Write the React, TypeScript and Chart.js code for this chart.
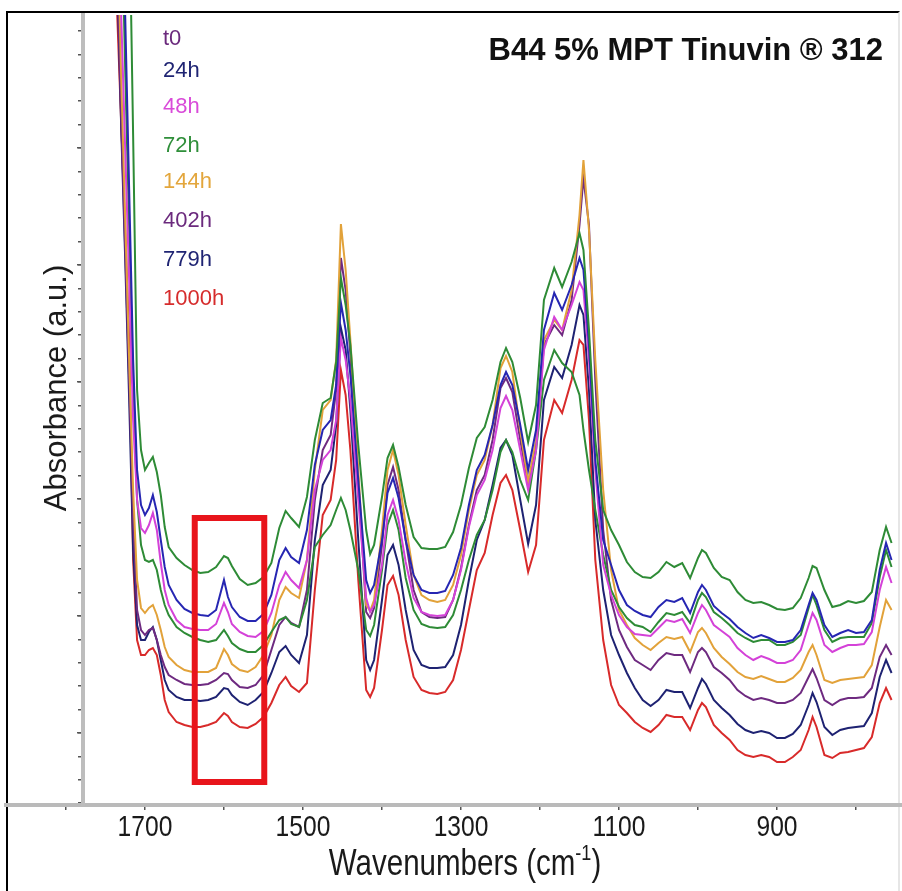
import { useEffect, useRef } from 'react';
import { Chart, registerables } from 'chart.js';

Chart.register(...registerables);

// ---------- data (wavenumber in cm-1, absorbance in mAU, arbitrary offset) ----------
const WAVENUMBERS = [
  1740, 1735, 1730, 1725, 1720, 1715, 1710, 1705, 1700, 1695,
  1690, 1685, 1680, 1675, 1670, 1660, 1650, 1640, 1630, 1620,
  1610, 1600, 1595, 1590, 1580, 1570, 1560, 1550, 1540, 1530,
  1522, 1515, 1505, 1495, 1485, 1475, 1465, 1458, 1452, 1446,
  1440, 1430, 1420, 1415, 1410, 1400, 1393, 1386, 1379, 1370,
  1360, 1350, 1340, 1330, 1320, 1310, 1300, 1290, 1280, 1270,
  1260, 1250, 1243, 1235, 1225, 1215, 1205, 1195, 1182, 1172,
  1160, 1150, 1145, 1138, 1130, 1120, 1110, 1100, 1090, 1080,
  1070, 1060, 1050, 1040, 1030, 1020, 1010, 1000, 995, 990,
  980, 970, 960, 950, 940, 930, 920, 910, 900, 890,
  880, 870, 860, 855, 850, 840, 830, 820, 810, 800,
  790, 780, 770, 762, 755,
];

const H72 = [
  1805, 1605, 1390, 1150, 910, 670, 415, 355, 335, 342,
  348, 333, 310, 278, 258, 247, 240, 235, 232, 233,
  238, 249, 247, 239, 226, 220, 222, 228, 242, 277,
  294, 287, 278, 308, 365, 402, 407, 443, 527, 500,
  460, 360, 275, 251, 260, 308, 347, 360, 338, 300,
  268, 257, 256, 256, 258, 273, 300, 337, 367, 378,
  405, 443, 457, 443, 407, 363, 400, 505, 537, 518,
  543, 572, 555, 475, 365, 295, 275, 260, 243, 233,
  228, 227, 233, 243, 238, 242, 227, 247, 255, 252,
  237, 228, 225, 213, 205, 202, 203, 200, 196, 195,
  197, 207, 227, 239, 237, 215, 198, 200, 204, 202,
  204, 213, 255, 278, 262,
];

const H24 = [
  1505, 1305, 960, 788, 615, 445, 335, 300, 290, 297,
  310, 293, 265, 238, 220, 205, 196, 192, 190, 189,
  195, 225, 208, 198, 188, 184, 184, 191, 210, 245,
  257, 248, 242, 275, 340, 375, 385, 420, 502, 475,
  430, 325, 225, 212, 220, 265, 312, 327, 307, 265,
  230, 215, 212, 212, 214, 230, 257, 300, 335, 350,
  380, 420, 433, 420, 380, 335, 375, 475, 512, 495,
  520, 547, 535, 460, 345, 265, 240, 215, 200, 194,
  190, 188, 198, 205, 203, 207, 192, 213, 220, 215,
  199, 192, 186, 178, 172, 167, 170, 167, 163, 163,
  165, 175, 200, 212, 205, 180, 168, 172, 175, 172,
  173, 185, 235, 262, 245,
];

const H48 = [
  1405, 955, 788, 655, 525, 385, 305, 277, 272, 280,
  292, 275, 242, 215, 200, 185, 178, 176, 175, 175,
  181, 202, 193, 181, 173, 169, 168, 174, 192, 220,
  233, 225, 217, 245, 315, 345, 355, 385, 467, 445,
  405, 305, 207, 193, 200, 240, 290, 305, 285, 243,
  207, 193, 190, 189, 190, 205, 235, 278, 310, 325,
  355, 397, 409, 395, 355, 315, 355, 455, 488, 475,
  500, 523, 515, 445, 335, 240, 210, 190, 178, 171,
  170, 169, 177, 185, 183, 186, 172, 192, 200, 195,
  180, 174, 168, 157, 150, 145, 149, 146, 142, 142,
  145, 155, 180, 192, 185, 160, 153, 157, 160, 160,
  161, 173, 215, 238, 222,
];

const T0 = [
  1605, 1205, 905, 735, 575, 415, 305, 260, 245, 243,
  245, 235, 215, 200, 190, 178, 172, 168, 165, 163,
  165, 175, 169, 162, 156, 153, 153, 160, 173, 185,
  188, 181, 178, 205, 258, 270, 280, 295, 307, 295,
  275, 235, 175, 169, 180, 235, 280, 295, 275, 227,
  195, 181, 178, 177, 178, 190, 215, 245, 270, 285,
  315, 353, 365, 353, 325, 305, 355, 425, 455, 442,
  433, 410, 375, 335, 295, 250, 215, 198, 187, 180,
  178, 173, 183, 192, 190, 193, 182, 205, 212, 208,
  193, 187, 180, 172, 167, 163, 165, 165, 160, 160,
  163, 170, 197, 210, 200, 175, 163, 167, 168, 168,
  168, 182, 228, 255, 238,
];

const H144 = [
  1105, 885, 725, 585, 445, 315, 225, 197, 192, 197,
  200, 190, 175, 158, 148, 140, 135, 133, 133, 133,
  137, 156, 150, 141, 135, 133, 138, 150, 170, 205,
  218, 212, 207, 245, 335, 395, 405, 445, 581, 535,
  465, 335, 200, 194, 205, 275, 335, 355, 330, 280,
  230, 210, 205, 203, 205, 220, 250, 295, 330, 345,
  380, 437, 449, 433, 375, 323, 365, 465, 485, 475,
  515, 590, 645, 575, 445, 315, 235, 195, 180, 167,
  160, 155, 162, 168, 166, 168, 153, 173, 177, 172,
  157, 148, 141, 133, 128, 126, 129, 126, 123, 123,
  127, 135, 153, 160, 150, 125, 122, 125, 126, 127,
  128, 140, 178, 205, 195,
];

const H402 = [
  1055, 835, 685, 555, 425, 285, 195, 175, 170, 175,
  177, 165, 150, 138, 130, 125, 121, 120, 120, 121,
  125, 132, 131, 125, 118, 117, 120, 130, 155, 180,
  188, 182, 178, 215, 305, 355, 370, 415, 547, 515,
  450, 325, 193, 187, 197, 260, 320, 338, 315, 265,
  215, 193, 188, 187, 188, 205, 237, 280, 315, 330,
  365, 417, 427, 413, 365, 320, 360, 460, 480, 470,
  505, 580, 627, 580, 425, 275, 205, 175, 158, 145,
  140, 135, 145, 152, 150, 150, 133, 153, 157, 153,
  138, 132, 125, 115, 109, 105, 107, 105, 102, 102,
  105, 112, 128, 136, 127, 105, 100, 105, 107, 107,
  108, 117, 148, 160, 150,
];

const H779 = [
  1005, 825, 675, 545, 405, 255, 180, 165, 165, 173,
  178, 165, 145, 125, 115, 108, 105, 105, 104, 105,
  108, 117, 116, 110, 103, 100, 105, 113, 132, 153,
  159, 150, 142, 170, 265, 320, 335, 380, 477, 455,
  395, 265, 145, 135, 145, 205, 250, 260, 240, 195,
  155, 140, 137, 137, 138, 150, 180, 225, 265, 285,
  320, 357, 365, 350, 305, 261, 300, 405, 438, 427,
  460, 500, 490, 415, 285, 215, 170, 150, 132, 117,
  105, 99, 105, 115, 113, 113, 97, 117, 126, 121,
  105, 97, 90, 81, 75, 72, 74, 72, 67, 67,
  71, 80, 100, 112, 103, 78, 70, 75, 77, 78,
  79, 92, 128, 145, 132,
];

const H1000 = [
  895, 788, 680, 575, 465, 245, 165, 150, 150, 155,
  157, 150, 130, 105, 93, 83, 80, 78, 78, 80,
  83, 92, 89, 83, 78, 77, 81, 88, 102, 120,
  128, 119, 113, 122, 215, 290, 305, 345, 435, 410,
  355, 225, 115, 108, 117, 175, 220, 229, 210, 165,
  128, 115, 112, 111, 113, 125, 155, 195, 235, 252,
  290, 322, 330, 315, 275, 233, 260, 365, 405, 392,
  425, 465, 460, 385, 245, 165, 120, 100, 92, 83,
  77, 73, 80, 90, 88, 88, 75, 95, 102, 98,
  80, 72, 65, 55, 50, 48, 50, 48, 43, 43,
  48, 55, 75, 88, 78, 50, 47, 52, 53, 55,
  57, 68, 102, 117, 105,
];

const SERIES_LABELS = ['72h', '24h', '48h', 't0', '144h', '402h', '779h', '1000h'];
const SERIES_VALUES = [H72, H24, H48, T0, H144, H402, H779, H1000];
const SERIES_COLORS = ['#2e8b36', '#2626b2', '#d442d8', '#2e8b36', '#e2a23a', '#6e2a80', '#1e2272', '#d82a2a'];

const LEGEND_LABELS = ['t0', '24h', '48h', '72h', '144h', '402h', '779h', '1000h'];
const LEGEND_COLORS = ['#6b2a7d', '#1f2473', '#d94bd9', '#2f8f3a', '#e3a63c', '#6b2a7d', '#1f2473', '#d62c2c'];

const X_TICK_VALUES = [1700, 1500, 1300, 1100, 900];
const X_TICK_LABELS = ['1700', '1500', '1300', '1100', '900'];

const CHART_TITLE = 'B44 5% MPT Tinuvin \u00AE 312';
const X_TITLE = ['Wavenumbers (cm', '-1', ')'];
const Y_TITLE = 'Absorbance (a.u.)';

// highlighted band (cm-1) and absorbance span
const HIGHLIGHT_BAND = [1637, 1549];
const HIGHLIGHT_SPAN = [23, 287];

const X_MIN = 741.8;
const X_MAX = 1875.9;
const Y_AXIS_AT = 1778.5;
const Y_MIN = 0;
const Y_MAX = 790;

const FONT = '"Liberation Sans", Arial, Helvetica, sans-serif';
const NARROW = 0.82;

const decorations = {
  id: 'decorations',
  afterDatasetsDraw(chart: any) {
    const { ctx } = chart;
    const xs = chart.scales.x;
    const ys = chart.scales.y;
    const l = xs.getPixelForValue(HIGHLIGHT_BAND[0]);
    const r = xs.getPixelForValue(HIGHLIGHT_BAND[1]);
    const t = ys.getPixelForValue(HIGHLIGHT_SPAN[1]);
    const b = ys.getPixelForValue(HIGHLIGHT_SPAN[0]);
    ctx.save();
    ctx.strokeStyle = '#e8141b';
    ctx.lineWidth = 6;
    ctx.strokeRect(Math.min(l, r), t, Math.abs(r - l), b - t);
    ctx.restore();
  },
  afterDraw(chart: any) {
    const { ctx } = chart;
    const xs = chart.scales.x;
    const area = chart.chartArea;
    ctx.save();

    // title
    ctx.fillStyle = '#111';
    ctx.font = `bold 31px ${FONT}`;
    ctx.textAlign = 'right';
    ctx.textBaseline = 'alphabetic';
    ctx.fillText(CHART_TITLE, 883, 60);

    // legend (coloured text)
    const baselines = [45, 77, 113, 152, 188, 227, 266, 305];
    ctx.font = `22px ${FONT}`;
    ctx.textAlign = 'left';
    LEGEND_LABELS.forEach((lab, i) => {
      ctx.fillStyle = LEGEND_COLORS[i];
      ctx.fillText(lab, 163, baselines[i]);
    });

    // y title
    ctx.save();
    ctx.fillStyle = '#1a1a1a';
    ctx.translate(57, 388);
    ctx.rotate(-Math.PI / 2);
    ctx.font = `31px ${FONT}`;
    ctx.textAlign = 'center';
    ctx.textBaseline = 'middle';
    ctx.fillText(Y_TITLE, 0, 0);
    ctx.restore();

    // x tick labels (narrow)
    ctx.fillStyle = '#1a1a1a';
    ctx.font = `30px ${FONT}`;
    ctx.textAlign = 'center';
    ctx.textBaseline = 'middle';
    X_TICK_VALUES.forEach((v, i) => {
      const px = xs.getPixelForValue(v);
      ctx.save();
      ctx.translate(px, area.bottom + 23);
      ctx.scale(NARROW, 1);
      ctx.fillText(X_TICK_LABELS[i], 0, 0);
      ctx.restore();
    });

    // x title with superscript
    ctx.textAlign = 'left';
    ctx.textBaseline = 'alphabetic';
    const big = `36px ${FONT}`;
    const small = `22px ${FONT}`;
    ctx.font = big;
    const w1 = ctx.measureText(X_TITLE[0]).width;
    const w3 = ctx.measureText(X_TITLE[2]).width;
    ctx.font = small;
    const w2 = ctx.measureText(X_TITLE[1]).width;
    const total = (w1 + w2 + w3) * NARROW;
    ctx.save();
    ctx.translate(465 - total / 2, area.bottom + 70);
    ctx.scale(NARROW, 1);
    ctx.font = big;
    ctx.fillText(X_TITLE[0], 0, 0);
    ctx.font = small;
    ctx.fillText(X_TITLE[1], w1, -15);
    ctx.font = big;
    ctx.fillText(X_TITLE[2], w1 + w2, 0);
    ctx.restore();

    ctx.restore();
  },
};

export default function App() {
  const ref = useRef<HTMLCanvasElement | null>(null);

  useEffect(() => {
    document.body.style.margin = '0';
    document.body.style.overflow = 'hidden';
    const canvas = ref.current;
    if (!canvas) return;

    const datasets = SERIES_VALUES.map((vals, i) => ({
      label: SERIES_LABELS[i],
      data: WAVENUMBERS.map((w, j) => ({ x: w, y: vals[j] })),
      borderColor: SERIES_COLORS[i],
      backgroundColor: SERIES_COLORS[i],
      borderWidth: 2,
      pointRadius: 0,
      fill: false,
      tension: 0,
    }));

    const chart = new Chart(canvas, {
      type: 'line',
      data: { datasets },
      options: {
        animation: false,
        responsive: false,
        devicePixelRatio: 1,
        events: [],
        layout: { padding: { top: 15, left: 6, right: 0, bottom: 0 } },
        plugins: {
          legend: { display: false },
          tooltip: { enabled: false },
          title: { display: false },
        },
        scales: {
          x: {
            type: 'linear',
            reverse: true,
            min: X_MIN,
            max: X_MAX,
            afterBuildTicks: (s: any) => {
              const t = [];
              for (let v = 800; v <= 1800; v += 100) t.push({ value: v });
              s.ticks = t;
            },
            afterFit: (s: any) => {
              s.height = 86;
            },
            ticks: { display: false },
            grid: { drawOnChartArea: false, drawTicks: true, tickLength: 5, color: '#555', lineWidth: 1.5 },
            border: { display: true, color: '#bababa', width: 4 },
          },
          y: {
            type: 'linear',
            axis: 'y',
            min: Y_MIN,
            max: Y_MAX,
            position: { x: Y_AXIS_AT },
            afterBuildTicks: (s: any) => {
              const t = [];
              for (let v = 1.8; v <= Y_MAX; v += 23.4) t.push({ value: v });
              s.ticks = t;
            },
            ticks: { display: false },
            grid: { drawOnChartArea: false, drawTicks: true, tickLength: 3, color: '#555', lineWidth: 1.5 },
            border: { display: true, color: '#bdbdbd', width: 4 },
          },
          y2: {
            type: 'linear',
            axis: 'y',
            min: Y_MIN,
            max: Y_MAX,
            position: { x: Y_AXIS_AT },
            afterBuildTicks: (s: any) => {
              const t = [];
              for (let v = 72; v <= 700; v += 117) t.push({ value: v });
              s.ticks = t;
            },
            ticks: { display: false },
            grid: { drawOnChartArea: false, drawTicks: true, tickLength: 6, color: '#555', lineWidth: 1.5 },
            border: { display: false },
          },
        },
      } as any,
      plugins: [decorations],
    });

    return () => chart.destroy();
  }, []);

  return (
    <div style={{ position: 'relative', width: 902, height: 891, background: '#fff', overflow: 'hidden' }}>
      <div
        style={{
          position: 'absolute',
          left: 6,
          top: 11,
          right: 2,
          bottom: -4,
          borderTop: '2px solid #000',
          borderLeft: '2px solid #000',
          borderRight: '2px solid #e6e6e6',
        }}
      />
      <canvas ref={ref} width={902} height={891} style={{ position: 'absolute', left: 0, top: 0 }} />
    </div>
  );
}
